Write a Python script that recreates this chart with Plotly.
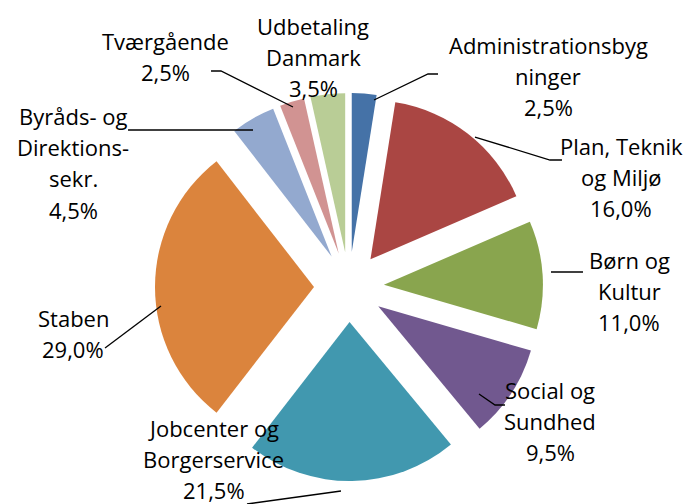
import plotly.graph_objects as go

W, H = 691, 504

# Data
omraader = ["Administrationsbygninger", "Plan, Teknik og Miljø", "Børn og Kultur",
            "Social og Sundhed", "Jobcenter og Borgerservice", "Staben",
            "Byråds- og Direktions-sekr.", "Tværgående", "Udbetaling Danmark"]
andele = [2.5, 16.0, 11.0, 9.5, 21.5, 29.0, 4.5, 2.5, 3.5]
label_linjer = [["Administrationsbyg", "ninger"], ["Plan, Teknik", "og Miljø"], ["Børn og", "Kultur"],
                ["Social og", "Sundhed"], ["Jobcenter og", "Borgerservice"], ["Staben"],
                ["Byråds- og", "Direktions-", "sekr."], ["Tværgående"], ["Udbetaling", "Danmark"]]

FARVER = ["#4572A7", "#AA4643", "#89A54E", "#71588F", "#4198AF",
          "#DB843D", "#93A9CF", "#D19392", "#B9CD96"]

# label placement: (centre x, baseline of first line) in pixels
label_pos = [(540, 52), (613, 153), (621, 267), (542, 397), (206, 435),
             (65, 325), (65, 123), (157, 48), (305, 33)]
LINJEAFSTAND = 31.2
FONT = dict(family="Open Sans", size=22, color="#000000")

# leader lines (pixel polylines)
leaders = [
    [(366, 92), (420, 66), (430, 66)],
    [(467, 129), (542, 152), (554, 152)],
    [(543, 264), (575, 264)],
    [(471, 386), (487, 397), (497, 397)],
    [(333, 483), (239, 496)],
    [(153, 298), (97, 340)],
    [(245, 122), (120, 122)],
    [(285, 99), (213, 63), (203, 63)],
]


def px(x, y):
    return x / W, 1 - y / H


# pie centre ~ (353, 289), outer extent incl. pull ~194 px
DX, DY = -12, -10
fig = go.Figure(go.Pie(
    labels=omraader,
    values=andele,
    sort=False,
    direction="clockwise",
    rotation=0,
    pull=0.22,
    marker=dict(colors=FARVER, line=dict(width=0)),
    textinfo="none",
    hoverinfo="label+percent",
    showlegend=False,
    domain=dict(x=[(159 + DX) / W, (547 + DX) / W], y=[1 - (483 + DY) / H, 1 - (95 + DY) / H]),
))

for linjer, v, (x, y0) in zip(label_linjer, andele, label_pos):
    alle = linjer + [f"{v:.1f}%".replace(".", ",")]
    for i, t in enumerate(alle):
        xp, yp = px(x, y0 + i * LINJEAFSTAND - 15)
        fig.add_annotation(
            x=xp, y=yp, xref="paper", yref="paper",
            text=t, showarrow=False, xanchor="center", yanchor="middle",
            font=FONT,
        )

for linje in leaders:
    pts = [px(x, y) for x, y in linje]
    path = "M " + " L ".join(f"{a:.4f},{b:.4f}" for a, b in pts)
    fig.add_shape(type="path", path=path, xref="paper", yref="paper",
                  line=dict(color="#000000", width=1.3))

fig.update_layout(
    width=W, height=H,
    margin=dict(l=0, r=0, t=0, b=0),
    paper_bgcolor="white",
    plot_bgcolor="white",
)

fig.write_html("out.html")
